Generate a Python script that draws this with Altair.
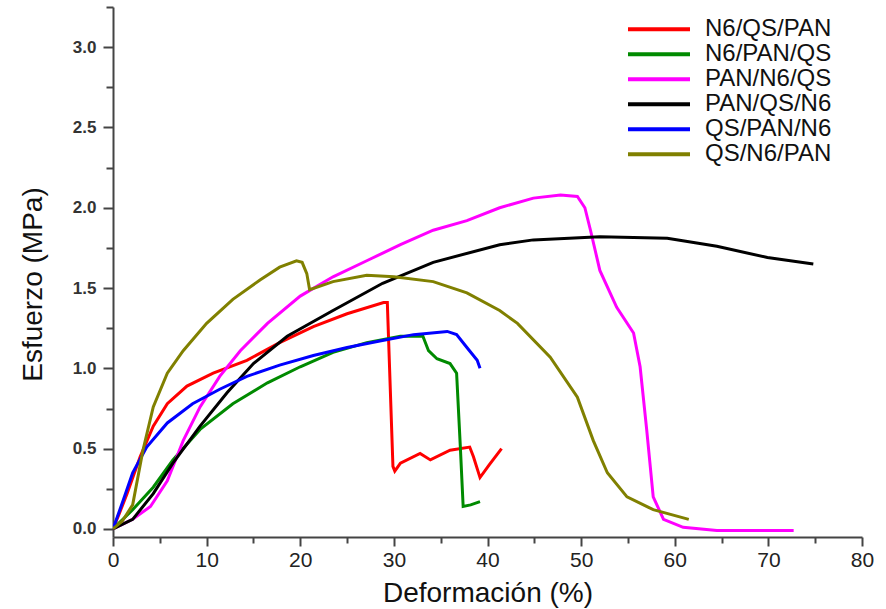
import altair as alt
import pandas as pd

series_names = ["N6/QS/PAN", "N6/PAN/QS", "PAN/N6/QS", "PAN/QS/N6", "QS/PAN/N6", "QS/N6/PAN"]
series_colors = ["#ff0000", "#008a00", "#ff00ff", "#000000", "#0000ff", "#808000"]

red_x = [0, 0.7, 1.5, 2.9, 4.3, 5.8, 7.9, 10.7, 14.3, 17.8, 21.4, 25, 28.9, 29.3, 29.9, 30.1, 30.7, 32.8, 33.9, 36, 38.1, 38.5, 39.2, 40.2, 41.5]
red_y = [0, 0.1, 0.22, 0.45, 0.64, 0.78, 0.89, 0.97, 1.05, 1.16, 1.26, 1.34, 1.41, 1.41, 0.39, 0.36, 0.41, 0.47, 0.43, 0.49, 0.51, 0.45, 0.32, 0.40, 0.50]

green_x = [0, 2.1, 4.3, 6.4, 9.3, 12.8, 16.5, 20, 23.5, 27.1, 30.7, 33.1, 33.7, 34.6, 36, 36.7, 37.1, 37.4, 38.2, 39.2]
green_y = [0, 0.12, 0.26, 0.43, 0.62, 0.78, 0.91, 1.01, 1.10, 1.16, 1.20, 1.20, 1.11, 1.06, 1.03, 0.97, 0.51, 0.14, 0.15, 0.17]

pink_x = [0, 2.1, 4.0, 5.8, 7.5, 9.3, 11.4, 13.6, 16.5, 20, 23.5, 27.1, 30.7, 34.2, 37.8, 41.3, 44.9, 47.8, 49.6, 50.4, 51, 52, 53.8, 55.6, 56.3, 57, 57.7, 58.8, 60.9, 64.5, 68, 72.7]
pink_y = [0, 0.06, 0.14, 0.30, 0.55, 0.76, 0.95, 1.11, 1.28, 1.45, 1.57, 1.67, 1.77, 1.86, 1.92, 2.0, 2.06, 2.08, 2.07, 2.0, 1.86, 1.61, 1.38, 1.22, 1.01, 0.62, 0.2, 0.06, 0.01, -0.01, -0.01, -0.01]

black_x = [0, 2.1, 4.3, 6.4, 9.3, 12.2, 15, 18.6, 23.5, 28.8, 34.2, 41.3, 44.9, 52, 59.2, 64.5, 69.9, 74.8]
black_y = [0, 0.06, 0.22, 0.41, 0.64, 0.85, 1.03, 1.20, 1.36, 1.53, 1.66, 1.77, 1.80, 1.82, 1.81, 1.76, 1.69, 1.65]

blue_x = [0, 1.1, 2.1, 3.6, 5.8, 8.5, 11.4, 14.3, 17.8, 21.4, 25, 28.5, 32.1, 35.7, 36.7, 37.8, 38.9, 39.2]
blue_y = [0, 0.18, 0.35, 0.51, 0.66, 0.78, 0.87, 0.95, 1.02, 1.08, 1.13, 1.17, 1.21, 1.23, 1.21, 1.13, 1.05, 1.0]

olive_x = [0, 1.0, 2.1, 3.2, 4.3, 5.8, 7.5, 10, 12.8, 15.7, 17.8, 19.6, 20.2, 20.7, 21.0, 23.5, 27.1, 30, 34.2, 37.8, 41.3, 43.2, 46.7, 49.6, 51.3, 52.8, 54.9, 57.7, 61.5]
olive_y = [0, 0.05, 0.15, 0.49, 0.76, 0.97, 1.11, 1.28, 1.43, 1.55, 1.63, 1.67, 1.66, 1.59, 1.49, 1.54, 1.58, 1.57, 1.54, 1.47, 1.36, 1.28, 1.07, 0.82, 0.55, 0.35, 0.20, 0.12, 0.06]

x_ticks = [0, 5, 10, 15, 20, 25, 30, 35, 40, 45, 50, 55, 60, 65, 70, 75, 80]
y_ticks = [0, 0.25, 0.5, 0.75, 1.0, 1.25, 1.5, 1.75, 2.0, 2.25, 2.5, 2.75, 3.0, 3.25]

all_x = [red_x, green_x, pink_x, black_x, blue_x, olive_x]
all_y = [red_y, green_y, pink_y, black_y, blue_y, olive_y]

rows = []
for name, xs, ys in zip(series_names, all_x, all_y):
    for i, (xv, yv) in enumerate(zip(xs, ys)):
        rows.append({"serie": name, "x": xv, "y": yv, "i": i})
df = pd.DataFrame(rows)

axis_color = "#444444"

chart = alt.Chart(df).mark_line(strokeWidth=3, clip=True).encode(
    x=alt.X("x:Q", scale=alt.Scale(domain=[0, 80], nice=False, zero=False),
            axis=alt.Axis(title="Deformación (%)", values=x_ticks,
                          labelExpr="datum.value % 10 === 0 ? datum.label : ''",
                          tickSize={"condition": {"test": "datum.value % 10 === 0", "value": 9}, "value": 6},
                          grid=False, domainColor=axis_color, domainWidth=2,
                          tickColor=axis_color, tickWidth=2, labelFlush=False,
                          labelFont="Liberation Sans", labelFontSize=21,
                          labelColor="#222222", labelPadding=3,
                          titleFont="Liberation Sans", titleFontSize=28, titleFontWeight="normal",
                          titleColor="#111111", titleY=56, titleBaseline="middle")),
    y=alt.Y("y:Q", scale=alt.Scale(domain=[-0.05, 3.25], nice=False, zero=False),
            axis=alt.Axis(title="Esfuerzo (MPa)", values=y_ticks, format=".1f",
                          labelExpr="round(datum.value * 100) % 50 === 0 ? datum.label : ''",
                          tickSize={"condition": {"test": "round(datum.value * 100) % 50 === 0", "value": 10}, "value": 7},
                          grid=False, domainColor=axis_color, domainWidth=2,
                          tickColor=axis_color, tickWidth=2, labelFlush=False,
                          labelFont="Liberation Sans", labelFontSize=17, labelFontWeight="bold",
                          labelColor="#333333", labelPadding=7,
                          titleFont="Liberation Sans", titleFontSize=28,
                          titleFontWeight="normal", titleColor="#111111",
                          titleX=-80, titleY=277, titleBaseline="middle", titleAngle=-90)),
    color=alt.Color("serie:N", scale=alt.Scale(domain=series_names, range=series_colors),
                    legend=alt.Legend(title=None, orient="none", legendX=513, legendY=10,
                                      symbolType="stroke", symbolSize=3844, symbolStrokeWidth=4,
                                      labelFont="Liberation Sans",
                                      labelFontSize=24, labelColor="#111111",
                                      labelOffset=13, rowPadding=0, padding=0,
                                      clipHeight=24.5, symbolOffset=0)),
    order="i:Q",
).properties(
    width=749, height=530,
    autosize=alt.AutoSizeParams(type="none"),
    padding={"left": 113, "top": 7, "right": 24, "bottom": 72},
).configure_view(stroke=None)

chart.save("out.html", embed_options={"renderer": "svg", "actions": False})
